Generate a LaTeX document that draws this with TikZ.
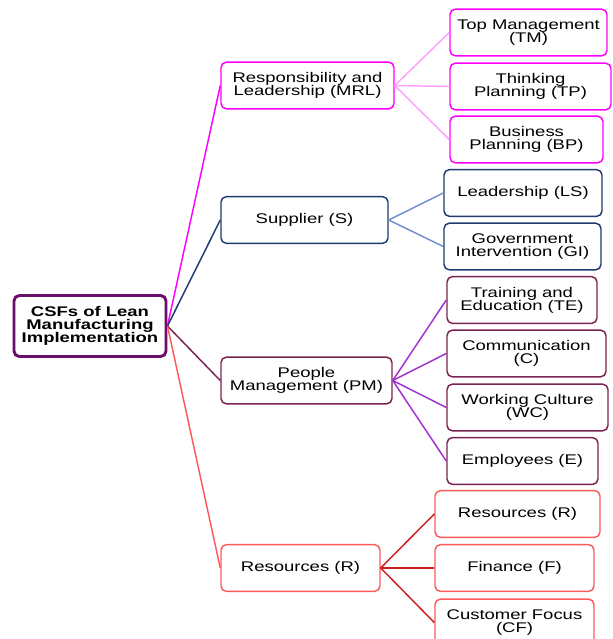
\documentclass[tikz,border=0pt]{standalone}
\usepackage{fontspec}
\setmainfont{Liberation Sans}[FakeStretch=1.32]
\usepackage{tikz}

\definecolor{rootc}{HTML}{6A0F6A}
\definecolor{mrlc}{HTML}{FF00FF}
\definecolor{mrlline}{HTML}{FFA0FF}
\definecolor{sc}{HTML}{1F3B70}
\definecolor{sline}{HTML}{7090D0}
\definecolor{pmc}{HTML}{7B2350}
\definecolor{pmline}{HTML}{A030D0}
\definecolor{rc}{HTML}{FF5A5A}
\definecolor{rline}{HTML}{CC2020}

\begin{document}
\begin{tikzpicture}[x=0.75pt,y=-0.75pt,
    box/.style={draw=#1, rounded corners=4pt, line width=1.1pt, fill=white,
      align=center, inner sep=0pt, minimum height=35pt,
      font=\fontsize{10.5}{9.8}\selectfont},
    link/.style={draw=#1, line width=1.1pt}]
    \useasboundingbox (0,0) rectangle (612,639);

    % root
    \node[box=rootc, line width=2.2pt, minimum width=114pt, minimum height=45.75pt,
      font=\fontsize{10.5}{10}\selectfont\bfseries] (csf) at (90,326)
      {CSFs of Lean\\Manufacturing\\Implementation};

    % first level
    \node[box=mrlc, minimum width=129.75pt] (mrl) at (307.5,85.5) {Responsibility and\\Leadership (MRL)};
    \node[box=sc, minimum width=125.25pt] (s) at (304.5,220) {Supplier (S)};
    \node[box=pmc, minimum width=128.25pt] (pm) at (306.5,380.5) {People\\Management (PM)};
    \node[box=rc, minimum width=119.25pt] (r) at (300.5,568) {Resources (R)};

    % second level
    \node[box=mrlc, minimum width=117.75pt] (tm) at (528.5,32.5) {Top Management\\(TM)};
    \node[box=mrlc, minimum width=120.75pt] (tp) at (530.5,86.5) {Thinking\\Planning (TP)};
    \node[box=mrlc, minimum width=114.75pt] (bp) at (526.5,139.5) {Business\\Planning (BP)};

    \node[box=sc, minimum width=118.5pt] (ls) at (523,193) {Leadership (LS)};
    \node[box=sc, minimum width=117.75pt] (gi) at (522.5,246.5) {Government\\Intervention\ (GI)};

    \node[box=pmc, minimum width=112.5pt] (te) at (522,300) {Training and\\Education (TE)};
    \node[box=pmc, minimum width=119.25pt] (c) at (526.5,353.5) {Communication\\(C)};
    \node[box=pmc, minimum width=120.75pt] (wc) at (527.5,407.5) {Working Culture\\(WC)};
    \node[box=pmc, minimum width=113.25pt] (e) at (522.5,461) {Employees (E)};

    \node[box=rc, minimum width=123.75pt] (rs) at (517.5,514) {Resources (R)};
    \node[box=rc, minimum width=119.25pt] (f) at (514.5,568) {Finance (F)};
    \node[box=rc, minimum width=119.25pt] (cf) at (514.5,622.5) {Customer Focus\\(CF)};

    % connectors
    \path[link=mrlc] (csf.east) -- (mrl.west);
    \path[link=sc] (csf.east) -- (s.west);
    \path[link=pmc] (csf.east) -- (pm.west);
    \path[link=rc] (csf.east) -- (r.west);

    \foreach \n in {tm,tp,bp} \path[link=mrlline] (mrl.east) -- (\n.west);
    \foreach \n in {ls,gi} \path[link=sline] (s.east) -- (\n.west);
    \foreach \n in {te,c,wc,e} \path[link=pmline] (pm.east) -- (\n.west);
    \foreach \n in {rs,f,cf} \path[link=rline] (r.east) -- (\n.west);

\end{tikzpicture}
\end{document}
